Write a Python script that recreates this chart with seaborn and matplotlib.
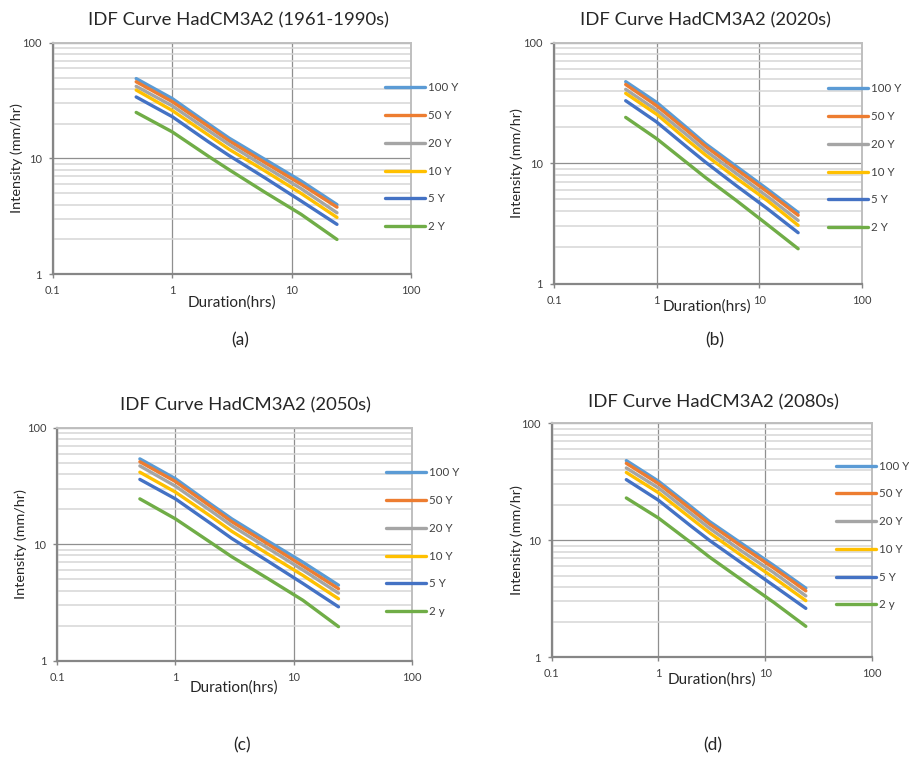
import numpy as np
import pandas as pd
import matplotlib
matplotlib.use('Agg')
import matplotlib.pyplot as plt
import seaborn as sns
from matplotlib.ticker import FixedLocator, NullFormatter, FixedFormatter

# ---------------- data ----------------
durations = [0.5, 1, 2, 3, 6, 12, 24]
periods_ab = ['100 Y', '50 Y', '20 Y', '10 Y', '5 Y', '2 Y']
periods_cd = ['100 Y', '50 Y', '20 Y', '10 Y', '5 Y', '2 y']
series_colors = ['#5B9BD5', '#ED7D31', '#A5A5A5', '#FFC000', '#4472C4', '#70AD47']
x_ticks = [0.1, 1, 10, 100]
x_tick_labels = ['0.1', '1', '10', '100']
y_ticks = [1, 10, 100]
y_tick_labels = ['1', '10', '100']

# (a) 1961-1990s
a_100 = [49.0, 33.0, 20.0, 15.0, 9.8, 6.4, 4.0]
a_50 = [46.0, 31.0, 19.0, 14.2, 9.2, 6.0, 3.8]
a_20 = [42.0, 28.5, 17.5, 13.2, 8.5, 5.5, 3.4]
a_10 = [39.0, 26.0, 16.0, 12.0, 7.8, 5.0, 3.1]
a_5 = [34.0, 23.0, 14.0, 10.6, 6.8, 4.3, 2.7]
a_2 = [25.0, 17.0, 10.5, 8.0, 5.1, 3.3, 2.0]

# (b) 2020s
b_100 = [47.5, 32.0, 19.5, 14.5, 9.4, 6.1, 3.9]
b_50 = [45.0, 30.0, 18.5, 13.8, 8.9, 5.8, 3.7]
b_20 = [41.0, 27.5, 17.0, 12.7, 8.2, 5.3, 3.35]
b_10 = [38.0, 25.5, 15.5, 11.7, 7.5, 4.9, 3.05]
b_5 = [33.0, 22.0, 13.5, 10.2, 6.5, 4.2, 2.65]
b_2 = [24.0, 16.0, 10.0, 7.6, 4.9, 3.1, 1.95]

# (c) 2050s
c_100 = [54.0, 36.5, 22.0, 16.5, 10.7, 7.0, 4.45]
c_50 = [51.0, 34.5, 21.0, 15.6, 10.1, 6.5, 4.15]
c_20 = [47.0, 31.5, 19.3, 14.4, 9.3, 6.0, 3.8]
c_10 = [41.5, 28.0, 17.3, 12.9, 8.3, 5.4, 3.4]
c_5 = [36.0, 24.5, 15.0, 11.2, 7.2, 4.6, 2.9]
c_2 = [24.5, 16.5, 10.3, 7.8, 5.1, 3.3, 1.96]

# (d) 2080s
d_100 = [48.0, 32.0, 19.5, 14.5, 9.4, 6.1, 3.9]
d_50 = [45.5, 30.5, 18.5, 13.8, 8.9, 5.8, 3.7]
d_20 = [41.5, 28.0, 17.0, 12.7, 8.1, 5.3, 3.35]
d_10 = [38.0, 25.5, 15.5, 11.6, 7.4, 4.8, 3.05]
d_5 = [33.0, 22.0, 13.3, 10.0, 6.4, 4.1, 2.62]
d_2 = [23.0, 15.5, 9.6, 7.2, 4.6, 2.95, 1.84]

titles = ['IDF Curve HadCM3A2 (1961-1990s)', 'IDF Curve HadCM3A2 (2020s)',
          'IDF Curve HadCM3A2 (2050s)', 'IDF Curve HadCM3A2 (2080s)']
panel_tags = ['(a)', '(b)', '(c)', '(d)']

# ---------------- layout (pixels) ----------------
W, H = 909, 759
sns.set_theme(style='white')
plt.rcParams['font.family'] = ['Lato', 'DejaVu Sans']

fig = plt.figure(figsize=(W / 100, H / 100), dpi=100)
fig.patch.set_facecolor('white')

panels = [
    dict(series=[a_100, a_50, a_20, a_10, a_5, a_2], labels=periods_ab,
         box=(52.7, 42.7, 411.0, 274.3), title_xy=(239, 20), leg=(385, 88),
         xlab=(232, 303), ylab_x=17, tag=(240, 340)),
    dict(series=[b_100, b_50, b_20, b_10, b_5, b_2], labels=periods_ab,
         box=(554.0, 42.7, 861.7, 283.7), title_xy=(706, 20), leg=(827.7, 89),
         xlab=(707, 307), ylab_x=517, tag=(715, 340)),
    dict(series=[c_100, c_50, c_20, c_10, c_5, c_2], labels=periods_cd,
         box=(57.3, 427.7, 411.7, 660.7), title_xy=(245, 405), leg=(386, 473),
         xlab=(234, 688), ylab_x=21, tag=(242, 745)),
    dict(series=[d_100, d_50, d_20, d_10, d_5, d_2], labels=periods_cd,
         box=(551.7, 423.3, 872.0, 657.3), title_xy=(713, 402), leg=(835.7, 466.3),
         xlab=(712, 680), ylab_x=517, tag=(713, 745)),
]

major_grid = '#8f8f8f'
minor_grid = '#d6d6d6'
axis_col = '#868686'
minor_y = [m * 10 ** e for e in range(0, 2) for m in range(2, 10)]

for i, p in enumerate(panels):
    x0, y0, x1, y1 = p['box']
    ax = fig.add_axes([x0 / W, 1 - y1 / H, (x1 - x0) / W, (y1 - y0) / H])
    ax.set_xscale('log')
    ax.set_yscale('log')

    df = pd.DataFrame({
        'Duration': durations * len(p['series']),
        'Intensity': np.concatenate(p['series']),
        'Return': np.repeat(p['labels'], len(durations)),
    })
    sns.lineplot(data=df, x='Duration', y='Intensity', hue='Return',
                 hue_order=p['labels'], palette=series_colors, ax=ax,
                 linewidth=2.4, estimator=None, sort=True)

    ax.set_xlim(0.1, 100)
    ax.set_ylim(1, 100)
    ax.xaxis.set_major_locator(FixedLocator(x_ticks))
    ax.xaxis.set_major_formatter(FixedFormatter(x_tick_labels))
    ax.xaxis.set_minor_locator(FixedLocator([]))
    ax.yaxis.set_major_locator(FixedLocator(y_ticks))
    ax.yaxis.set_major_formatter(FixedFormatter(y_tick_labels))
    ax.yaxis.set_minor_locator(FixedLocator(minor_y))
    ax.yaxis.set_minor_formatter(NullFormatter())

    ax.set_axisbelow(True)
    ax.grid(which='major', axis='both', color=major_grid, linewidth=0.9)
    ax.grid(which='minor', axis='y', color=minor_grid, linewidth=1.1)

    for s in ['left', 'bottom']:
        ax.spines[s].set_color(axis_col)
        ax.spines[s].set_linewidth(1.6)
    for s in ['top', 'right']:
        ax.spines[s].set_color('#bfbfbf')
        ax.spines[s].set_linewidth(1.4)

    ax.tick_params(which='major', axis='both', direction='out', length=3,
                   width=1.0, color=axis_col, labelsize=8, labelcolor='#404040',
                   pad=5.0, bottom=True, left=True)
    ax.tick_params(which='minor', length=0)

    ax.set_xlabel('Duration(hrs)', fontsize=11, color='#262626')
    ax.xaxis.label.set_va('center')
    lx, ly = p['xlab']
    ax.xaxis.set_label_coords((lx - x0) / (x1 - x0), (y1 - ly) / (y1 - y0))
    ax.set_ylabel('Intensity (mm/hr)', fontsize=10.4, color='#262626')
    ax.yaxis.label.set_va('center')
    ax.yaxis.set_label_coords((p['ylab_x'] - x0) / (x1 - x0), 0.5)

    handles, labels = ax.get_legend_handles_labels()
    if ax.get_legend() is not None:
        ax.get_legend().remove()
    lgx, lgy = p['leg']
    fs = 8.3
    fs_px = fs * 100 / 72
    row_h = fs_px * 0.984
    ax.legend(handles, labels, loc='upper left',
              bbox_to_anchor=(lgx / W, 1 - (lgy - row_h / 2) / H),
              bbox_transform=fig.transFigure, frameon=False, fontsize=fs,
              borderpad=0, borderaxespad=0, handlelength=3.5, handletextpad=0.25,
              labelspacing=(28.1 - row_h) / fs_px, labelcolor='#404040')

    tx, ty = p['title_xy']
    fig.text(tx / W, 1 - ty / H, titles[i], ha='center', va='center',
             fontsize=13.3, color='#262626')
    gx, gy = p['tag']
    fig.text(gx / W, 1 - gy / H, panel_tags[i], ha='center', va='center',
             fontsize=12.5, color='#262626')

fig.savefig('out.png', dpi=100, facecolor='white')
